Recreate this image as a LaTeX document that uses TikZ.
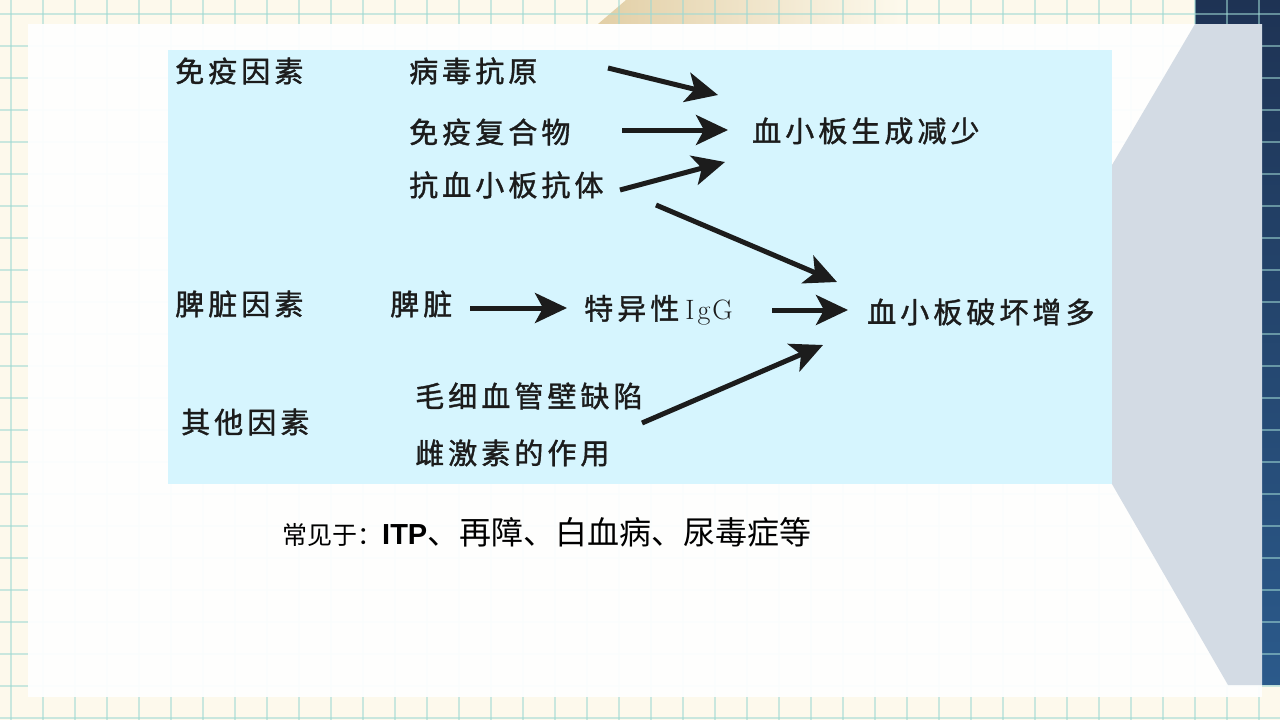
\documentclass[tikz,border=0pt]{standalone}
\usepackage{fontspec}
\newfontfamily\boxfont[LetterSpace=14, FakeBold=1.3]{Noto Sans CJK SC}
\newfontfamily\cjkfont{Noto Sans CJK SC}
\newfontfamily\arialfont{Liberation Sans}
\usetikzlibrary{arrows.meta, calc}
\definecolor{slide_cream}{HTML}{FDF9EC}
\definecolor{slide_grid}{HTML}{9FD9D3}
\definecolor{slide_tan}{HTML}{E2CFA6}
\definecolor{navy_top}{HTML}{1E3354}
\definecolor{navy_mid}{HTML}{2F6CA5}
\definecolor{navy_bot}{HTML}{2B5A8B}
\definecolor{slide_grey}{HTML}{D3DBE4}
\definecolor{box_cyan}{HTML}{D6F5FE}
\definecolor{box_ink}{HTML}{1C1C1C}

\begin{document}
\begin{tikzpicture}[x=1pt, y=-1pt,
    gridline/.style={slide_grid, opacity=0.55, line width=1.2pt},
    boxtext/.style={anchor=west, inner sep=0pt, text=box_ink,
                    font=\fontsize{29}{32}\selectfont\boxfont},
    bigarrow/.style={-{Stealth[length=32pt, width=30pt, inset=8pt]},
                     line width=5pt, box_ink}]
  \useasboundingbox (0,0) rectangle (1280,720);

  % slide background
  \fill[slide_cream] (0,0) rectangle (1280,720);
  \shade[left color=slide_tan, right color=slide_cream]
    (598,24) -- (626,0) -- (900,0) -- (900,24) -- cycle;
  \shade[top color=navy_top, middle color=navy_mid, bottom color=navy_bot]
    (1195,0) -- (1280,0) -- (1280,685) -- (1262,685) -- (1262,24) -- (1195,24) -- cycle;
  \foreach \gx in {11,43,...,1280}
    \draw[gridline] (\gx,0) -- (\gx,720);
  \foreach \gy in {14,46,...,720}
    \draw[gridline] (0,\gy) -- (1280,\gy);
  \fill[white, opacity=0.94] (28,24) rectangle (1262,697);
  \fill[slide_grey] (1195,24) -- (1262,24) -- (1262,685) -- (1228,685) -- (1019,323) -- cycle;

  % diagram panel
  \fill[box_cyan] (168,50) rectangle (1112,484);

  \node[boxtext] (myys) at (175,71) {免疫因素};
  \node[boxtext] (bdky) at (409,71) {病毒抗原};
  \node[boxtext] (myfh) at (409,132) {免疫复合物};
  \node[boxtext] (kxb) at (409,185) {抗血小板抗体};
  \node[boxtext] (scjs) at (752,131) {血小板生成减少};

  \node[boxtext] (pzys) at (175,304) {脾脏因素};
  \node[boxtext] (pz) at (390,304) {脾脏};
  \node[boxtext] (igg) at (584,310)
    {特异性\hspace{6pt}{\rmfamily\fontsize{28}{30}\selectfont I\hspace{3pt}g\hspace{2pt}G}};
  \node[boxtext] (phzd) at (867,312) {血小板破坏增多};

  \node[boxtext] (mxg) at (415,396) {毛细血管壁缺陷};
  \node[boxtext] (qtys) at (181,422) {其他因素};
  \node[boxtext] (cjs) at (415,453) {雌激素的作用};

  \draw[bigarrow] ($(bdky.west)+(199,-3)$) -- ($(scjs.west)+(-34,-36)$);
  \draw[bigarrow] ($(myfh.west)+(213,-2)$) -- ($(scjs.west)+(-24,-1)$);
  \draw[bigarrow] ($(kxb.west)+(211,5)$) -- ($(scjs.west)+(-27,31)$);
  \draw[bigarrow] ($(kxb.west)+(247,20)$) -- ($(phzd.west)+(-30,-30)$);
  \draw[bigarrow] ($(pz.west)+(80,4)$) -- ($(igg.west)+(-17,-2)$);
  \draw[bigarrow] ($(igg.west)+(188,0)$) -- ($(phzd.west)+(-19,-2)$);
  \draw[bigarrow] ($(mxg.west)+(227,27)$) -- ($(phzd.west)+(-44,33)$);

  % caption line
  \node[anchor=west, inner sep=0pt] (cjy) at (282,532)
    {{\cjkfont\fontsize{25}{28}\selectfont 常见于：}{\arialfont\bfseries\fontsize{29}{32}\selectfont ITP}{\cjkfont\fontsize{32}{36}\selectfont 、再障、白血病、尿毒症等}};
\end{tikzpicture}
\end{document}
